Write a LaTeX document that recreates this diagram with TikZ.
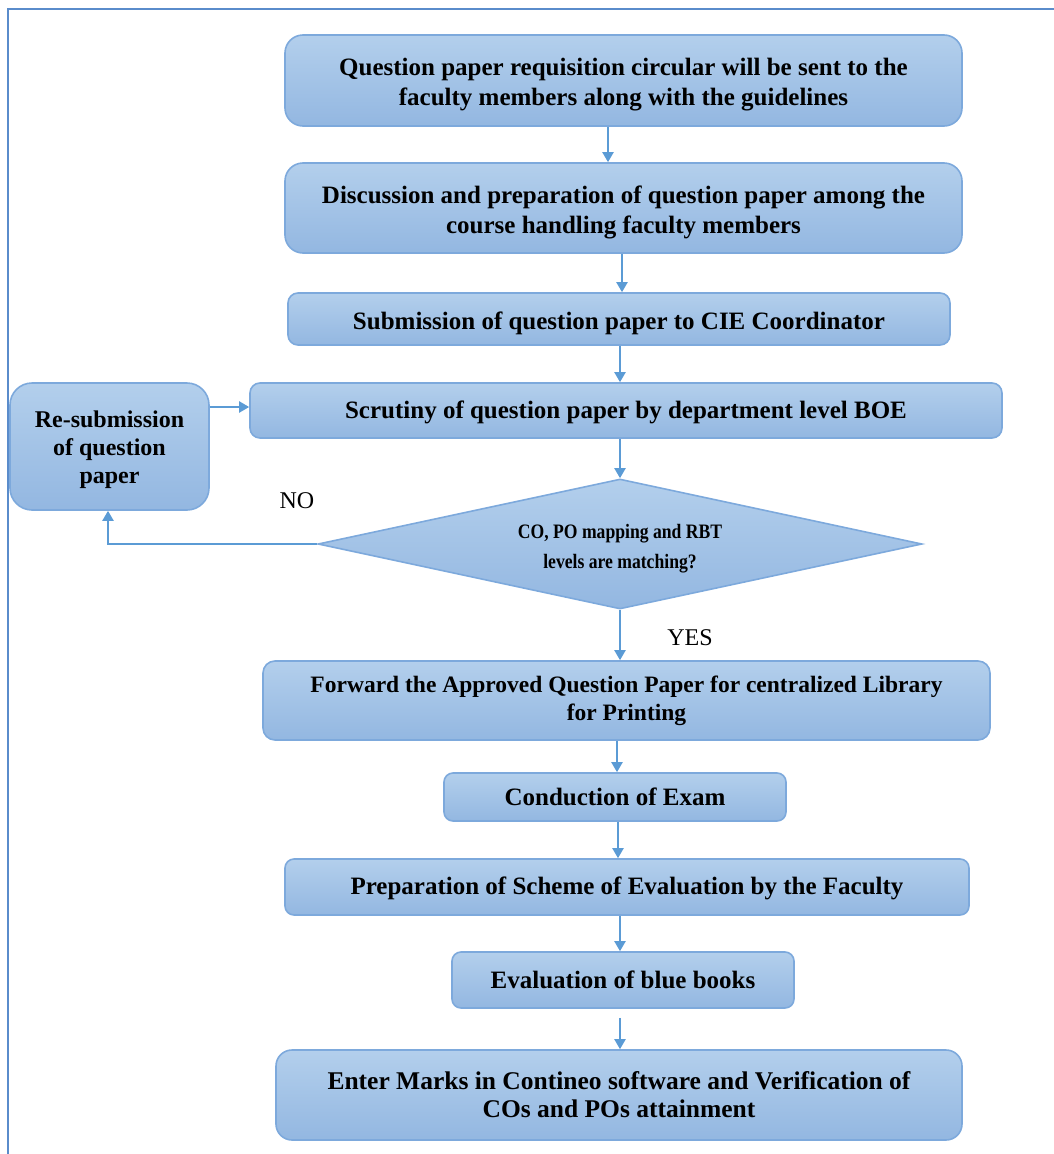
\documentclass[tikz,border=0pt]{standalone}
\usepackage{fontspec}
\setmainfont{Liberation Serif}
\newfontfamily\narrowserif[FakeStretch=0.86]{Liberation Serif}
\usetikzlibrary{arrows.meta,shapes.geometric}
\definecolor{boxtop}{HTML}{B3CFEC}
\definecolor{boxbot}{HTML}{93B7E1}
\definecolor{bordc}{HTML}{7DA9DC}
\definecolor{arrowc}{HTML}{5B9BD5}
\definecolor{framec}{HTML}{5A8CCB}
% invisible strut that lowers the text a little inside its box
\newcommand{\txtdrop}[1]{\rule{0pt}{#1}}
\tikzset{
  procbox/.style={draw=bordc, line width=1.6pt, top color=boxtop, bottom color=boxbot,
    rounded corners=14pt, align=center, inner sep=0pt,
    font=\fontsize{25}{30}\selectfont\bfseries},
  decision/.style={diamond, draw=bordc, line width=1.6pt, top color=boxtop, bottom color=boxbot,
    align=center, inner sep=0pt, aspect=4.65,
    font=\narrowserif\fontsize{20.5}{30}\selectfont\bfseries},
  flow/.style={draw=arrowc, line width=2pt, -{Triangle[length=10pt,width=11pt]}},
  plainlabel/.style={font=\fontsize{24}{28}\selectfont, inner sep=0pt}
}
\begin{document}
\begin{tikzpicture}[x=1pt,y=-1pt]
\useasboundingbox (0,0) rectangle (1054,1154);
% page frame
\draw[framec, line width=1.5pt] (8,1154) -- (8,9) -- (1054,9);

% process steps
\node[procbox, minimum width=677pt, minimum height=91pt, rounded corners=18pt] (b1) at (623.5,80.5)
  {\txtdrop{26pt}Question paper requisition circular will be sent to the\\faculty members along with the guidelines};
\node[procbox, minimum width=677pt, minimum height=90pt, rounded corners=18pt] (b2) at (623.5,208)
  {\txtdrop{26pt}Discussion and preparation of question paper among the\\course handling faculty members};
\node[procbox, minimum width=662pt, minimum height=52pt, rounded corners=10pt] (b3) at (619,319)
  {\txtdrop{26pt}Submission of question paper to CIE Coordinator};
\node[procbox, minimum width=752pt, minimum height=55pt, rounded corners=10pt] (b4) at (626,410.5)
  {\txtdrop{21pt}Scrutiny of question paper by department level BOE};
\node[procbox, minimum width=199pt, minimum height=127pt, rounded corners=22pt,
  font=\fontsize{24}{28}\selectfont\bfseries] (rs) at (109.5,446.5)
  {\txtdrop{23pt}Re-submission\\of question\\paper};
\node[decision, minimum width=604pt, minimum height=130pt] (d1) at (620,544)
  {\txtdrop{23pt}CO, PO mapping and RBT\\levels are matching?};
\node[procbox, minimum width=727pt, minimum height=79pt, rounded corners=12pt,
  font=\fontsize{23.5}{28}\selectfont\bfseries] (b5) at (626.5,700.5)
  {Forward the Approved Question Paper for centralized Library\\for Printing};
\node[procbox, minimum width=342pt, minimum height=48pt, rounded corners=9pt] (b6) at (615,797)
  {Conduction of Exam};
\node[procbox, minimum width=684pt, minimum height=56pt, rounded corners=9pt] (b7) at (627,887)
  {\txtdrop{21pt}Preparation of Scheme of Evaluation by the Faculty};
\node[procbox, minimum width=342pt, minimum height=56pt, rounded corners=9pt] (b8) at (623,980)
  {Evaluation of blue books};
\node[procbox, minimum width=686pt, minimum height=90pt, rounded corners=16pt,
  font=\fontsize{25.5}{28}\selectfont\bfseries] (b9) at (619,1095)
  {Enter Marks in Contineo software and Verification of\\COs and POs attainment};

% branch labels
\node[plainlabel] (no) at (297,501) {NO};
\node[plainlabel] (yes) at (690,638) {YES};

% connector columns
\coordinate (c1) at (608,0);
\coordinate (c2) at (622,0);
\coordinate (c3) at (620,0);
\coordinate (c4) at (617,0);
\coordinate (c5) at (618,0);
\coordinate (nob) at (108,0);

% connectors
\draw[flow] (b1.south -| c1) -- (b2.north -| c1);
\draw[flow] (b2.south -| c2) -- (b3.north -| c2);
\draw[flow] (b3.south -| c3) -- (b4.north -| c3);
\draw[flow] (b4.south -| c3) -- (d1.north -| c3);
\draw[flow] (d1.south -| c3) -- (b5.north -| c3);
\draw[flow] (b5.south -| c4) -- (b6.north -| c4);
\draw[flow] (b6.south -| c5) -- (b7.north -| c5);
\draw[flow] (b7.south -| c3) -- (b8.north -| c3);
\draw[flow, shorten <=9pt] (b8.south -| c3) -- (b9.north -| c3);
\draw[flow] (d1.west) -- (d1.west -| nob) -- (rs.south -| nob);
\draw[flow] (rs.east |- 0,407) -- (b4.west |- 0,407);
\end{tikzpicture}
\end{document}
